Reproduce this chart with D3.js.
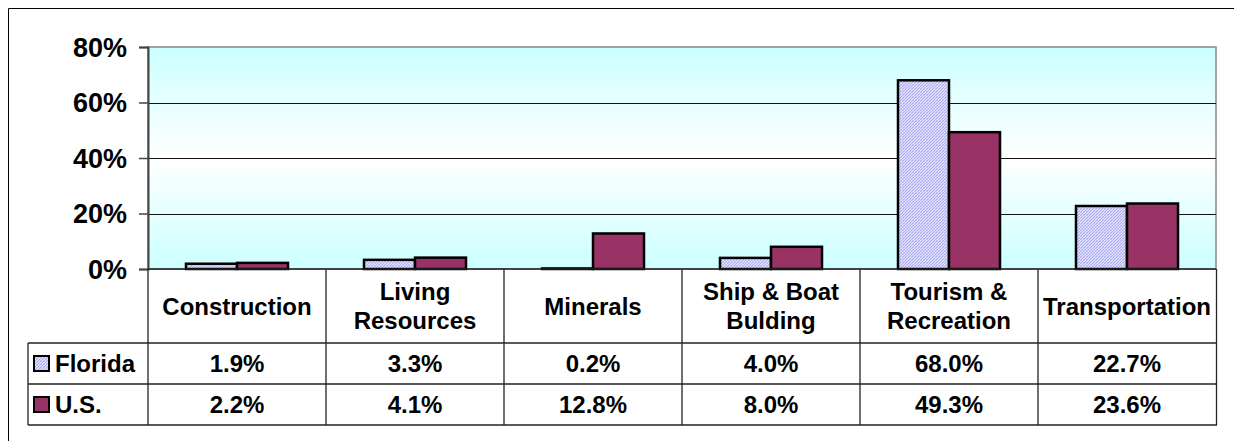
<!DOCTYPE html>
<html>
<head>
<meta charset="utf-8">
<script src="https://cdn.jsdelivr.net/npm/d3@7"></script>
<style>
  body { margin: 0; background: #fff; }
  text { font-family: "Liberation Sans", Arial, sans-serif; font-weight: bold; fill: #000; }
</style>
</head>
<body>
<div id="chart"></div>
<script>
// chart values
const categories = [["Construction"], ["Living", "Resources"], ["Minerals"], ["Ship & Boat", "Bulding"], ["Tourism &", "Recreation"], ["Transportation"]];
const seriesNames = ["Florida", "U.S."];
const florida = [0.019, 0.033, 0.002, 0.040, 0.680, 0.227];
const us = [0.022, 0.041, 0.128, 0.080, 0.493, 0.236];
const yTicks = [0, 0.2, 0.4, 0.6, 0.8];

const W = 1234, H = 441;
const plot = { left: 148, right: 1216, top: 47, bottom: 269 };
const rowH = { header: 74, data: 41 };
const legendLeft = 28;

const svg = d3.select("#chart").append("svg")
  .attr("width", W).attr("height", H);

const defs = svg.append("defs");
// background gradient cyan -> white -> cyan
const grad = defs.append("linearGradient").attr("id", "bg")
  .attr("x1", 0).attr("y1", 0).attr("x2", 0).attr("y2", 1);
grad.append("stop").attr("offset", "0%").attr("stop-color", "#ccffff");
grad.append("stop").attr("offset", "50%").attr("stop-color", "#ffffff");
grad.append("stop").attr("offset", "100%").attr("stop-color", "#ccffff");

// fine hatch for Florida
const pat = defs.append("pattern").attr("id", "hatch")
  .attr("width", 3).attr("height", 3).attr("patternUnits", "userSpaceOnUse");
pat.append("rect").attr("width", 3).attr("height", 3).attr("fill", "#e6e6ff");
pat.append("path").attr("d", "M0,3 L3,0").attr("stroke", "#a8a8ee").attr("stroke-width", 1.1);

const fills = ["url(#hatch)", "#993366"];

// outer frame
svg.append("path")
  .attr("d", `M8.5,${H} L8.5,8.5 L${W},8.5`)
  .attr("fill", "none").attr("stroke", "#000").attr("stroke-width", 1);

// scales
const x0 = d3.scaleBand().domain(d3.range(categories.length))
  .range([plot.left, plot.right]);
const x1 = d3.scaleBand().domain(seriesNames)
  .range([0, x0.bandwidth()]).paddingOuter(0.745);
const y = d3.scaleLinear().domain([0, 0.8]).range([plot.bottom, plot.top]);

// plot background
svg.append("rect")
  .attr("x", plot.left).attr("y", plot.top)
  .attr("width", plot.right - plot.left).attr("height", plot.bottom - plot.top)
  .attr("fill", "url(#bg)").attr("stroke", "#888").attr("stroke-width", 1.5);

// gridlines
svg.append("g").selectAll("line")
  .data(yTicks.filter(t => t > 0 && t < 0.8))
  .join("line")
  .attr("x1", plot.left).attr("x2", plot.right)
  .attr("y1", d => Math.round(y(d)) + 0.5).attr("y2", d => Math.round(y(d)) + 0.5)
  .attr("stroke", "#111").attr("stroke-width", 1);

// y axis
const yAxis = svg.append("g")
  .attr("transform", `translate(${plot.left},0)`)
  .call(d3.axisLeft(y).tickValues(yTicks).tickFormat(d3.format(".0%")).tickSize(9).tickPadding(12));
yAxis.select(".domain").attr("stroke", "#444").attr("stroke-width", 2);
yAxis.selectAll(".tick line").attr("stroke", "#444").attr("stroke-width", 1.5);
yAxis.selectAll(".tick text")
  .style("font-size", "27px").attr("font-family", null).attr("dy", "0.35em");

// bars
const values = [florida, us];
const groups = svg.append("g").selectAll("g")
  .data(categories.map((c, i) => i))
  .join("g")
  .attr("transform", i => `translate(${x0(i)},0)`);
groups.selectAll("rect")
  .data(i => seriesNames.map((s, k) => ({ k, s, v: values[k][i] })))
  .join("rect")
  .attr("x", d => x1(d.s))
  .attr("y", d => y(d.v))
  .attr("width", x1.bandwidth())
  .attr("height", d => y(0) - y(d.v))
  .attr("fill", d => fills[d.k])
  .attr("stroke", "#000").attr("stroke-width", 2.5);

// data table
const tTop = plot.bottom;
const r1 = tTop + rowH.header;
const r2 = r1 + rowH.data;
const r3 = r2 + rowH.data;
const table = svg.append("g").attr("stroke", "#222").attr("stroke-width", 1.3);
[r1, r2, r3].forEach(yy => table.append("line")
  .attr("x1", legendLeft).attr("x2", plot.right + 1).attr("y1", yy).attr("y2", yy));
table.append("line").attr("x1", legendLeft).attr("x2", legendLeft).attr("y1", r1).attr("y2", r3);
table.selectAll(".v").data(d3.range(categories.length + 1)).join("line")
  .attr("x1", i => i < categories.length ? x0(i) : plot.right + 0.5)
  .attr("x2", i => i < categories.length ? x0(i) : plot.right + 0.5)
  .attr("y1", tTop).attr("y2", r3);
table.append("line").attr("x1", plot.left).attr("x2", plot.right).attr("y1", tTop).attr("y2", tTop);

// category headers
const hdr = svg.append("g").selectAll("text")
  .data(categories)
  .join("text")
  .attr("text-anchor", "middle")
  .style("font-size", "24px")
  .attr("x", (d, i) => x0(i) + x0.bandwidth() / 2)
  .attr("y", d => (tTop + r1) / 2 - (d.length - 1) * 14.5);
hdr.selectAll("tspan")
  .data(d => d)
  .join("tspan")
  .attr("x", function () { return this.parentNode.getAttribute("x"); })
  .attr("dy", (d, j) => j === 0 ? "0.36em" : 29)
  .text(d => d);

// rows
const fmt = d3.format(".1%");
const rowsY = [(r1 + r2) / 2, (r2 + r3) / 2];
seriesNames.forEach((s, k) => {
  const g = svg.append("g");
  g.append("rect")
    .attr("x", 34).attr("y", rowsY[k] - 7.5).attr("width", 15).attr("height", 15)
    .attr("fill", fills[k]).attr("stroke", "#000").attr("stroke-width", 2);
  g.append("text")
    .attr("x", 55).attr("y", rowsY[k]).attr("dy", "0.36em")
    .style("font-size", "24px").text(s);
  g.selectAll(".val").data(values[k]).join("text")
    .attr("text-anchor", "middle")
    .attr("x", (d, i) => x0(i) + x0.bandwidth() / 2)
    .attr("y", rowsY[k]).attr("dy", "0.36em")
    .style("font-size", "24px")
    .text(d => fmt(d));
});
</script>
</body>
</html>
